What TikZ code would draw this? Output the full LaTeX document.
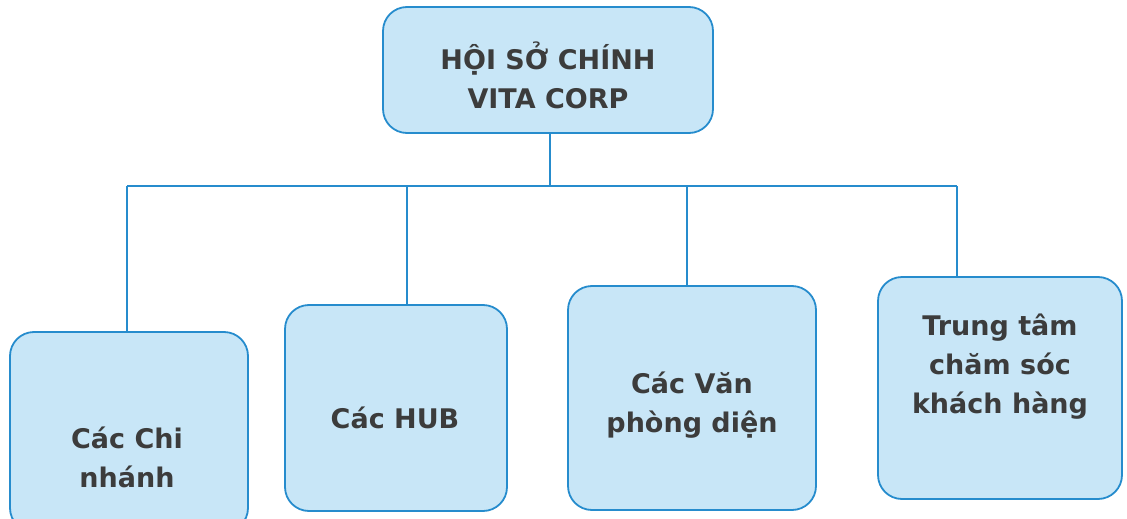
\documentclass[tikz,border=0pt]{standalone}
\usepackage{fontspec}
\setmainfont{DejaVu Sans}
\definecolor{boxfill}{RGB}{200,230,247}
\definecolor{boxline}{RGB}{38,140,205}
\definecolor{txtgray}{RGB}{60,60,60}
\tikzset{
  orgbox/.style={draw=boxline, fill=boxfill, line width=1.8pt, rounded corners=24pt},
  orgtext/.style={text=txtgray, font=\bfseries\fontsize{27}{39}\selectfont, align=center},
  link/.style={draw=boxline, line width=1.5pt}
}
\begin{document}
\begin{tikzpicture}[x=1pt, y=-1pt]
    % picture frame, same size as the scan
    \useasboundingbox (0,0) rectangle (1127,519);
    \clip (0,0) rectangle (1127,519);
    \def\busy{186}

    % head office
    \node[orgbox, minimum width=330pt, minimum height=126pt] (hoiso) at (548,70) {};
    \node[orgtext] (hoiso-txt) at (548,75) {HỘI SỞ CHÍNH\\VITA CORP};

    % the four units
    \node[orgbox, minimum width=238pt, minimum height=200pt] (chinhanh) at (129,432) {};
    \node[orgbox, minimum width=222pt, minimum height=206pt] (hub) at (396,408) {};
    \node[orgbox, minimum width=248pt, minimum height=224pt] (vanphong) at (692,398) {};
    \node[orgbox, minimum width=244pt, minimum height=222pt] (trungtam) at (1000,388) {};

    \node[orgtext] (chinhanh-txt) at (127,457) {Các Chi\\nhánh};
    \node[orgtext] (hub-txt) at (395,418) {Các HUB};
    \node[orgtext] (vanphong-txt) at (692,405) {Các Văn\\phòng diện};
    \node[orgtext] (trungtam-txt) at (1000,367) {Trung tâm\\chăm sóc\\khách hàng};

    % connectors
    \coordinate (bus) at (550,\busy);
    \coordinate (busL) at (127,\busy);
    \coordinate (busR) at (957,\busy);
    \draw[link] (hoiso.south -| bus) -- (bus);
    \draw[link] (busL) -- (busR);
    \foreach \n/\x in {chinhanh/127, hub/407, vanphong/687, trungtam/957} {
      \draw[link] (\x,\busy) -- (\n.north -| \x,0);
    }
\end{tikzpicture}
\end{document}
